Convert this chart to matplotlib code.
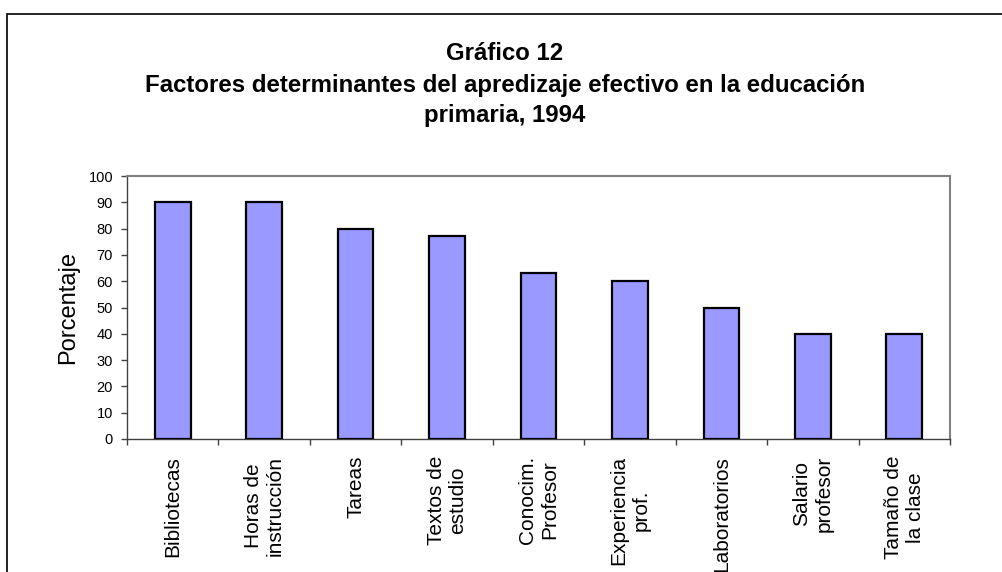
import matplotlib
matplotlib.use('Agg')
import matplotlib.pyplot as plt
from matplotlib.patches import Rectangle
import numpy as np

plt.rcParams['font.family'] = ['Liberation Sans', 'DejaVu Sans']

# data
factores = ['Bibliotecas', 'Horas de\ninstrucción', 'Tareas', 'Textos de\nestudio',
            'Conocim.\nProfesor', 'Experiencia\nprof.', 'Laboratorios',
            'Salario\nprofesor', 'Tamaño de\nla clase']
porcentaje = [90, 90, 80, 77, 63, 60, 50, 40, 40]
yticks = list(range(0, 101, 10))
titulo = ['Gráfico 12',
          'Factores determinantes del apredizaje efectivo en la educación',
          'primaria, 1994']

W, H = 1002, 572
fig = plt.figure(figsize=(W / 100, H / 100), dpi=100)
ax = fig.add_axes([127 / W, 1 - 439 / H, (950 - 127) / W, (439 - 176) / H])

x = np.arange(len(factores))
ax.bar(x, porcentaje, width=0.39, color='#9999FF', edgecolor='black', linewidth=1.6, zorder=3)

ax.set_xlim(-0.5, len(factores) - 0.5)
ax.set_ylim(0, 100)
ax.set_yticks(yticks)
ax.tick_params(axis='y', labelsize=10.5, length=4, width=1, color='#404040', pad=6)

# labels at bar centres, tick marks between categories
ax.set_xticks(x)
ax.set_xticklabels(factores, rotation=90, fontsize=15, va='top', ha='center')
ax.tick_params(axis='x', which='major', length=0, pad=12)
ax.set_xticks(np.arange(-0.5, len(factores)), minor=True)
ax.tick_params(axis='x', which='minor', length=4.5, width=1, color='#404040')

ax.set_ylabel('Porcentaje', fontsize=17, labelpad=7)

for s in ['top', 'right']:
    ax.spines[s].set_color('#808080')
    ax.spines[s].set_linewidth(1.5)
for s in ['left', 'bottom']:
    ax.spines[s].set_color('#404040')
    ax.spines[s].set_linewidth(1.0)

ys = [60, 92, 122]
for t, yb in zip(titulo, ys):
    fig.text(505 / W, 1 - yb / H, t, ha='center', va='baseline',
             fontsize=17.3, fontweight='bold')

# outer chart border, running off the bottom and right of the picture
fig.patches.append(Rectangle((6.5 / W, -0.1), 1.2, 1.1 - 13.5 / H, transform=fig.transFigure,
                             fill=False, edgecolor='black', linewidth=1.2))

fig.savefig('out.png', dpi=100)
